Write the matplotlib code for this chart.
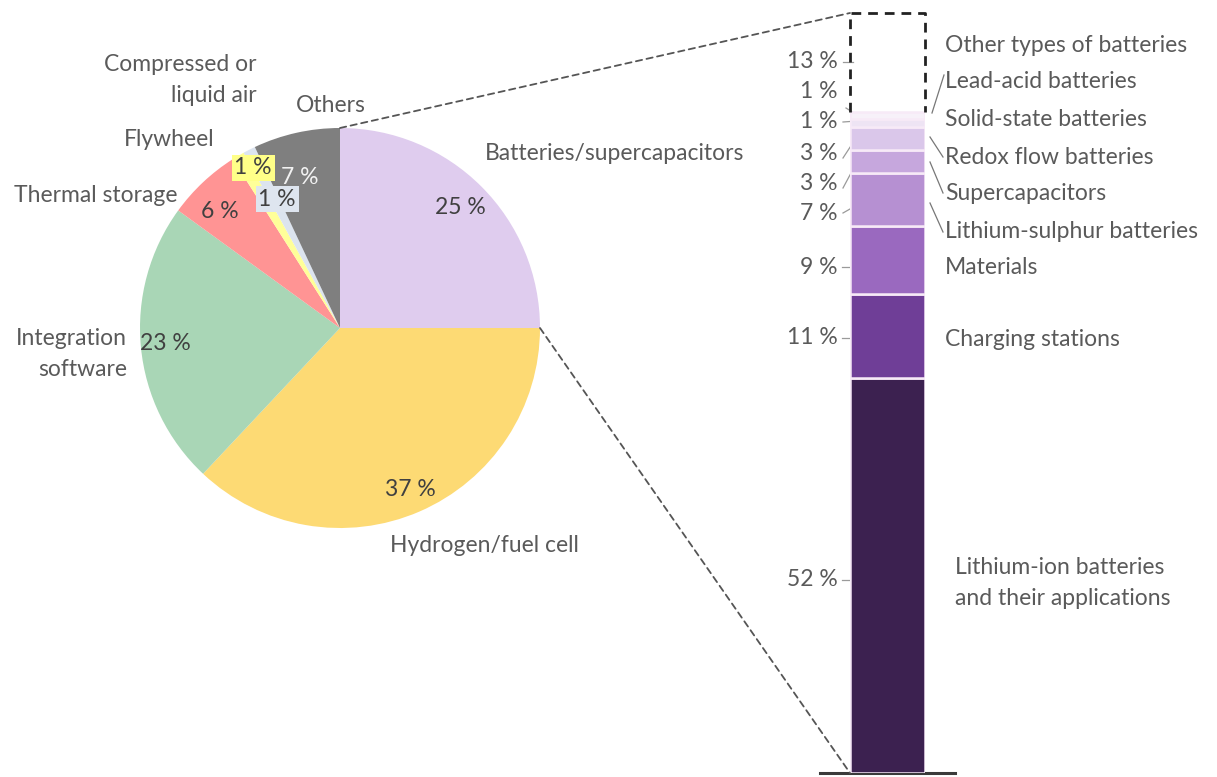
import matplotlib
matplotlib.use('Agg')
import matplotlib.pyplot as plt
from matplotlib.patches import ConnectionPatch

plt.rcParams['font.family'] = ['Lato', 'DejaVu Sans']

# share of companies by storage technology (pie, clockwise from top)
pie_labels = ['Batteries/supercapacitors', 'Hydrogen/fuel cell', 'Integration\nsoftware',
              'Thermal storage', 'Flywheel', 'Compressed or\nliquid air', 'Others']
pie_values = [25, 37, 23, 6, 1, 1, 7]
pie_colors = ['#DFCCEE', '#FDDA74', '#A9D6B6', '#FF9494', '#FFFF99', '#DCE4EF', '#7F7F7F']

# breakdown of batteries/supercapacitors (bar, bottom to top)
bar_labels = ['Lithium-ion batteries\nand their applications', 'Charging stations', 'Materials',
              'Lithium-sulphur batteries', 'Supercapacitors', 'Redox flow batteries',
              'Solid-state batteries', 'Lead-acid batteries', 'Other types of batteries']
bar_values = [52, 11, 9, 7, 3, 3, 1, 1, 13]
bar_colors = ['#3C2150', '#6F3E97', '#9A69BF', '#B690D2', '#C6A7DD', '#DAC7EA',
              '#EEE4F4', '#F7F1F9', 'none']

TXT = '#5A5A5A'
PCT = '#404040'
W, H = 1217, 777

fig = plt.figure(figsize=(W / 100, H / 100), dpi=100)
ax = fig.add_axes([0, 0, 1, 1])

# pie in pixel space (y axis inverted, so angles run the other way)
cx, cy, r = 340, 328, 200
ax.pie(pie_values, colors=pie_colors, startangle=-90, counterclock=True,
       center=(cx, cy), radius=r, wedgeprops=dict(linewidth=0))
ax.set_xlim(0, W)
ax.set_ylim(H, 0)
ax.set_aspect('auto')
ax.axis('off')

fs = 16.5
ls = 1.55
# category names around the pie
name_pos = [(485, 154, 'left'), (390, 545, 'left'), (127, 354, 'right'),
            (178, 195, 'right'), (215, 140, 'right'), (257, 80, 'right'), (366, 105, 'right')]
for lab, (x, y, ha) in zip(pie_labels, name_pos):
    ax.text(x, y, lab, ha=ha, va='center', color=TXT, fontsize=fs, linespacing=ls)

# percentages on the slices
pct_pos = [(460, 207), (410, 490), (165, 343), (220, 211), (253, 168), (277, 199), (300, 178)]
pct_box = [None, None, None, None, '#FFFF88', '#DEE5EF', None]
pct_col = [PCT, PCT, PCT, PCT, PCT, PCT, '#F2F2F2']
for v, (x, y), bc, c in zip(pie_values, pct_pos, pct_box, pct_col):
    kw = {}
    if bc:
        kw['bbox'] = dict(boxstyle='square,pad=0.12', fc=bc, ec='none')
    ax.text(x, y, f'{v} %', ha='center', va='center', color=c, fontsize=fs, **kw)

# stacked bar on its own axes, 0-100 %
bx = fig.add_axes([850 / W, (H - 773) / H, 75 / W, 760 / H])
bottoms = [sum(bar_values[:i]) for i in range(len(bar_values))]
for v, b, c in zip(bar_values[:-1], bottoms[:-1], bar_colors[:-1]):
    bx.bar(0, v, bottom=b, width=1, color=c, edgecolor='#F7EAF7', linewidth=1.8)
top_b = bottoms[-1]
bx.plot([-0.5, -0.5, 0.5, 0.5], [top_b, 100, 100, top_b], color='#222222',
        linestyle=(0, (3.5, 2.5)), linewidth=2, clip_on=False)
bx.set_xlim(-0.5, 0.5)
bx.set_ylim(0, 100)
bx.axis('off')

# base line under the bar
ax.plot([820, 955], [773, 773], color='#3A3A3A', linewidth=2.2)

# zoom lines from the batteries slice to the bar
for (px, py), yb in [((cx, cy - r), 100), ((cx + r, cy), 0)]:
    con = ConnectionPatch(xyA=(px, py), coordsA=ax.transData, xyB=(-0.5, yb),
                          coordsB=bx.transData, color='#555555', linestyle=(0, (3.5, 2.5)),
                          linewidth=1.3)
    fig.add_artist(con)

# value labels left of the bar, with leaders
left_y = [580, 338, 267, 213, 183, 153, 122, 92, 62]
left_lead = [((842, 580), (850, 580)), ((842, 338), (850, 338)), ((842, 267), (850, 267)),
             ((843, 213), (857, 205)), ((843, 188), (858, 160)), ((843, 158), (858, 135)),
             ((843, 122), (857, 121)), ((846, 108), (857, 115)), ((843, 62), (853, 62))]
for v, y, (p0, p1) in zip(bar_values, left_y, left_lead):
    ax.text(838, y, f'{v} %', ha='right', va='center', color=TXT, fontsize=fs)
    ax.plot([p0[0], p1[0]], [p0[1], p1[1]], color='#9A9A9A', linewidth=0.9)

# category labels right of the bar
right_y = [583, 339, 268, 232, 194, 157, 119, 82, 45]
for lab, y in zip(bar_labels, right_y):
    ha_x = 955 if '\n' in lab else 945
    ax.text(ha_x, y, lab, ha='left', va='center', color=TXT, fontsize=fs, linespacing=ls)
for p0, p1 in [((932, 113), (944, 75)), ((930, 137), (943, 157)),
               ((930, 162), (943, 193)), ((930, 203), (943, 232))]:
    ax.plot([p0[0], p1[0]], [p0[1], p1[1]], color='#777777', linewidth=0.9)

fig.savefig('out.png', dpi=100)
